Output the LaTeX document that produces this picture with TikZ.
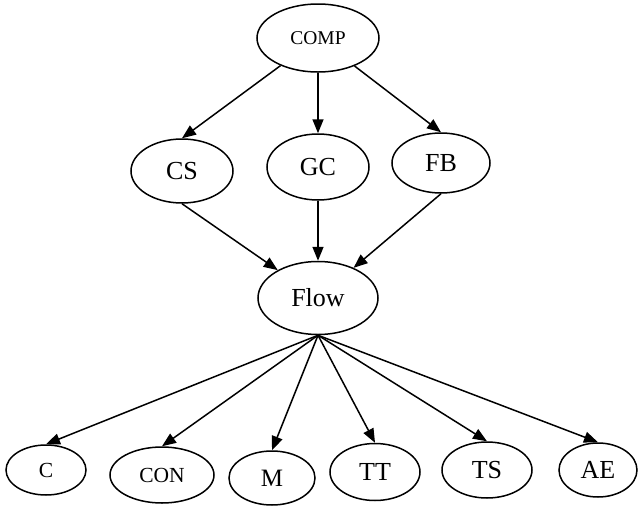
\documentclass[tikz,border=0pt]{standalone}
\usepackage{fontspec}
\setmainfont{Liberation Serif}
\usepackage{tikz}
\usetikzlibrary{shapes.geometric, arrows.meta}

\begin{document}
\begin{tikzpicture}[
        x=1pt, y=-1pt,
        every node/.style={font=\fontsize{26}{30}\selectfont},
        state/.style={ellipse, draw, line width=1.5pt, inner sep=0pt},
        link/.style={-{Triangle[length=14pt, width=11pt]}, line width=1.5pt}
    ]
    \useasboundingbox (0,0) rectangle (641,507);
%
    % Top node
    \node[state, minimum width=122pt, minimum height=68pt, font=\fontsize{19.5}{23}\selectfont] (comp) at (318,38) {COMP};
%
    % Middle row
    \node[state, minimum width=102pt, minimum height=64pt] (cs) at (182,171) {CS};
    \node[state, minimum width=102pt, minimum height=66pt] (gc) at (318,167) {GC};
    \node[state, minimum width=98pt, minimum height=60pt] (fb) at (441,163) {FB};
%
    % Flow
    \node[state, minimum width=120pt, minimum height=73pt] (flow) at (318,298) {Flow};
%
    % Bottom row
    \node[state, minimum width=80pt, minimum height=50pt, font=\fontsize{21.5}{25}\selectfont] (c) at (46,470) {C};
    \node[state, minimum width=104pt, minimum height=56pt, font=\fontsize{21.5}{25}\selectfont] (con) at (162,475) {CON};
    \node[state, minimum width=86pt, minimum height=54pt, font=\fontsize{25}{29}\selectfont] (m) at (272,478) {M};
    \node[state, minimum width=90pt, minimum height=57pt] (tt) at (375,472) {TT};
    \node[state, minimum width=90pt, minimum height=56pt] (ts) at (487,470) {TS};
    \node[state, minimum width=78pt, minimum height=54pt] (ae) at (598,470) {AE};
%
    % Edges from COMP
    \draw[link] (comp) -- (cs.north);
    \draw[link] (comp.south) -- (gc.north);
    \draw[link] (comp) -- (fb.north);
%
    % Edges into Flow
    \draw[link] (cs.south) -- (flow);
    \draw[link] (gc.south) -- (flow.north);
    \draw[link] (fb.south) -- (flow);
%
    % Edges out of Flow
    \foreach \n in {c, con, m, tt, ts, ae}
        \draw[link] (flow.south) -- (\n.north);
%
\end{tikzpicture}
\end{document}
